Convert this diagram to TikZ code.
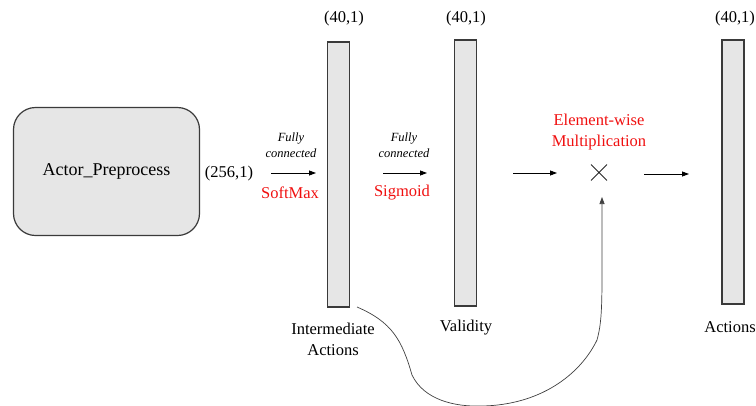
\documentclass[tikz,border=0pt]{standalone}
\usepackage{fontspec}
\setmainfont{Liberation Serif}
\usetikzlibrary{arrows.meta,shapes.misc}

\definecolor{boxfill}{HTML}{E6E6E6}
\definecolor{boxline}{HTML}{3A3A3A}
\definecolor{opred}{HTML}{F01010}

\tikzset{
  layer/.style={draw=boxline, fill=boxfill, line width=1.2pt, minimum width=22pt, inner sep=0pt},
  txt/.style={font=\fontsize{16.5}{21}\selectfont, align=center, inner sep=0pt},
  optxt/.style={txt, text=opred},
  fc/.style={font=\fontsize{12.5}{16}\selectfont\itshape, align=center, inner sep=0pt},
  flow/.style={-{Triangle[length=7pt,width=5pt]}, line width=0.8pt, black},
  skip/.style={-{Triangle[length=7pt,width=5pt]}, line width=0.7pt, black!75}
}

\begin{document}
\begin{tikzpicture}[x=1pt, y=-1pt]
\useasboundingbox (0,0) rectangle (756,405);

% preprocessing block
\node[draw=boxline, fill=boxfill, line width=1.2pt, rounded corners=22pt,
      minimum width=186pt, minimum height=128pt, inner sep=0pt,
      font=\fontsize{18}{21}\selectfont] (pre) at (106.5,171.5) {Actor\_Preprocess};
\node[txt] (insz) at (229,174) {(256,1)};

% layer bars
\node[layer, minimum height=265pt] (inter) at (338.5,174.5) {};
\node[layer, minimum height=266pt] (valid) at (465.5,173) {};
\node[layer, minimum height=264pt] (act) at (733,172) {};

\node[txt] (s1) at (344,19) {(40,1)};
\node[txt] (s2) at (466,19) {(40,1)};
\node[txt] (s3) at (735,19) {(40,1)};

\node[txt] (l1) at (333,339) {Intermediate\\Actions};
\node[txt] (l2) at (466,328) {Validity};
\node[txt] (l3) at (730,327) {Actions};

% first fully connected step
\coordinate (a1s) at (271,173);
\coordinate (a1e) at (316,173);
\draw[flow] (a1s) -- (a1e);
\node[fc] (fc1) at (291,145) {Fully\\connected};
\node[optxt] (sm) at (290,193) {SoftMax};

% second fully connected step
\coordinate (a2s) at (383,173);
\coordinate (a2e) at (427,173);
\draw[flow] (a2s) -- (a2e);
\node[fc] (fc2) at (404,145) {Fully\\connected};
\node[optxt] (sg) at (402,193) {Sigmoid};

% element-wise multiplication
\node[cross out, draw=black!85, line width=0.9pt, minimum size=15pt, inner sep=0pt] (mul) at (599,172.5) {};
\node[optxt] (mtxt) at (599,132.5) {Element-wise\\Multiplication};
\coordinate (a3s) at (513,173);
\coordinate (a3e) at (557,173);
\draw[flow] (a3s) -- (a3e);
\coordinate (a4s) at (644,174);
\coordinate (a4e) at (689,174);
\draw[flow] (a4s) -- (a4e);

% skip connection from intermediate actions into the product
\coordinate (sk0) at (357,307);
\coordinate (sk1) at (412,375);
\coordinate (sk2) at (482,406);
\coordinate (sk3) at (597,340);
\coordinate (sk4) at (602,197);
\draw[skip] (sk0) .. controls (392,322) and (402,340) .. (sk1)
  .. controls (424,400) and (455,407) .. (sk2)
  .. controls (540,405) and (580,375) .. (sk3)
  .. controls (603,318) and (602,300) .. (sk4);
\end{tikzpicture}
\end{document}
